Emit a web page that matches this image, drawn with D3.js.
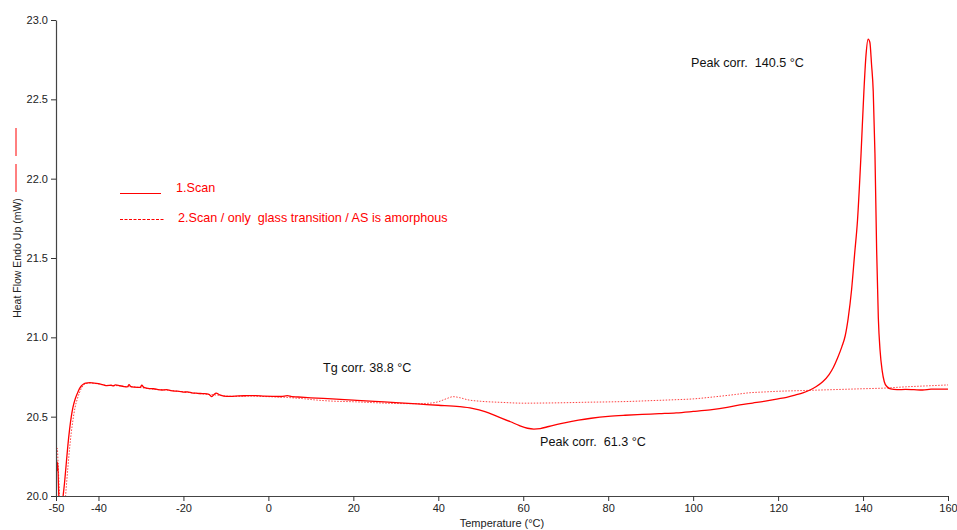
<!DOCTYPE html>
<html>
<head>
<meta charset="utf-8">
<script src="https://cdn.jsdelivr.net/npm/d3@7"></script>
<style>
  html, body { margin: 0; padding: 0; background: #fff; }
  svg { display: block; font-family: "Liberation Sans", Arial, sans-serif; }
</style>
</head>
<body>
<svg id="chart" width="957" height="530"></svg>
<script>
// DSC heat flow curves: temperature (°C) and heat flow (mW)
const scan1Temp = [-50.0,-49.8,-49.7,-49.6,-49.4,-49.2,-48.8,-48.4,-48.0,-47.6,-47.2,-46.8,-46.4,-46.0,-45.5,-45.0,-44.5,-44.0,-43.5,-43.0,
  -42,-41,-40,-39,-38,-37,-36.5,-36,-35,-34,-33.2,-32.8,-32.4,-31.5,-30.2,-29.8,-29.3,-28,-27,-26,-25,-24,-23,-22,-21,-20,-19,-18,-17,-16,-15,-14,
  -13.3,-12.8,-12.3,-11.5,-10.5,-9,-7,-5,-3,-1,1,3,4.5,5.5,7,10,15,20,25,30,35,40,45,48,51,54,57,59,61,62.5,64,66,68,70,73,76,80,84,88,92,96,
  100,104,108,111,114,117,120,122,124,126,127.5,129,130.5,132,133,134,135,135.8,136.5,137.3,138,138.7,139.5,140.2,140.7,141.2,141.6,142.0,
  142.4,142.8,143.2,143.6,144.0,144.5,145.0,145.6,146.5,148,150,152,154,156,158,160];
const scan1Flow = [20.18,20.22,20.16,20.21,20.05,19.90,19.85,19.98,20.08,20.20,20.32,20.42,20.50,20.56,20.61,20.645,20.675,20.695,20.706,20.712,
  20.714,20.712,20.708,20.702,20.696,20.698,20.694,20.700,20.695,20.690,20.688,20.702,20.690,20.686,20.684,20.698,20.684,20.677,20.676,20.670,
  20.668,20.670,20.664,20.661,20.660,20.655,20.656,20.650,20.648,20.646,20.645,20.640,
  20.626,20.640,20.648,20.638,20.630,20.628,20.631,20.632,20.633,20.630,20.628,20.627,20.632,20.626,20.624,20.619,20.612,20.604,20.596,20.589,
  20.580,20.572,20.563,20.552,20.532,20.500,20.468,20.445,20.427,20.422,20.425,20.438,20.451,20.463,20.478,20.490,20.502,20.509,20.514,20.519,
  20.524,20.533,20.543,20.558,20.574,20.586,20.598,20.612,20.622,20.636,20.652,20.668,20.690,20.720,20.765,20.810,20.870,20.94,21.01,21.12,
  21.30,21.52,21.74,22.14,22.55,22.78,22.88,22.86,22.72,22.55,22.16,21.55,21.12,20.92,20.79,20.72,20.69,20.675,20.670,20.672,20.670,20.668,
  20.673,20.674,20.673];

const scan2Temp = [-50.0,-49.8,-49.7,-49.5,-49.3,-49.1,-48.5,-48.0,-47.6,-47.2,-46.8,-46.4,-46.0,-45.5,-45.0,-44.5,-44.0,-43.5,-43.0,-42,
  -40,-38,-36,-34,-32,-30,-28,-26,-24,-22,-20,-18,-16,-14,-12,-10,-8,-6,-4,-2,0,2,4,6,8,10,15,20,25,30,35,38,40,42,43.5,45,47,50,55,60,65,70,
  75,80,85,90,95,100,105,110,113,117,120,125,130,135,140,145,150,155,160];
const scan2Flow = [20.22,20.29,20.30,20.20,20.08,19.95,19.85,19.92,20.05,20.18,20.30,20.40,20.48,20.56,20.61,20.65,20.68,20.70,20.708,20.712,
  20.706,20.697,20.696,20.690,20.688,20.683,20.676,20.671,20.668,20.662,20.656,20.650,20.645,20.640,20.636,20.630,20.628,20.629,20.630,20.628,
  20.626,20.624,20.622,20.618,20.614,20.608,20.598,20.594,20.588,20.583,20.582,20.585,20.594,20.614,20.626,20.620,20.606,20.597,20.590,20.585,
  20.586,20.588,20.591,20.593,20.596,20.601,20.606,20.612,20.625,20.640,20.650,20.656,20.660,20.664,20.668,20.672,20.676,20.680,20.688,20.694,
  20.700];

const xTicks = [-50, -40, -20, 0, 20, 40, 60, 80, 100, 120, 140, 160];
const yTicks = [20.0, 20.5, 21.0, 21.5, 22.0, 22.5, 23.0];

const legendLabels = ["1.Scan", "2.Scan / only  glass transition / AS is amorphous"];
const notes = [
  { text: "Peak corr.  140.5 °C", x: 691, y: 67 },
  { text: "Tg corr. 38.8 °C", x: 323, y: 372 },
  { text: "Peak corr.  61.3 °C", x: 540, y: 446 }
];

const svg = d3.select("#chart");
const plotLeft = 56, plotRight = 948, plotTop = 20, plotBottom = 496;

const x = d3.scaleLinear().domain([-50, 160]).range([plotLeft, plotRight]);
const y = d3.scaleLinear().domain([20, 23]).range([plotBottom, plotTop]);

svg.append("defs").append("clipPath").attr("id", "plot")
  .append("rect").attr("x", plotLeft).attr("y", plotTop)
  .attr("width", plotRight - plotLeft).attr("height", plotBottom - plotTop);

const red = "#ff0000";
const line = d3.line().x(d => x(d[0])).y(d => y(d[1])).curve(d3.curveMonotoneX);

const g = svg.append("g").attr("clip-path", "url(#plot)");
g.append("path")
  .datum(d3.zip(scan2Temp, scan2Flow))
  .attr("d", line).attr("fill", "none")
  .attr("stroke", red).attr("stroke-width", 1).attr("stroke-opacity", 0.75)
  .attr("stroke-dasharray", "1.5,1.5");
g.append("path")
  .datum(d3.zip(scan1Temp, scan1Flow))
  .attr("d", line).attr("fill", "none")
  .attr("stroke", red).attr("stroke-width", 1.3);

// Axes (plain hyphen for negative tick labels)
const hyphenInt = d => String(d);
const xAxis = svg.append("g").attr("transform", `translate(0,${plotBottom})`)
  .call(d3.axisBottom(x).tickValues(xTicks).tickSize(5).tickSizeOuter(0).tickFormat(hyphenInt));
const yAxis = svg.append("g").attr("transform", `translate(${plotLeft},0)`)
  .call(d3.axisLeft(y).tickValues(yTicks).tickSize(5).tickSizeOuter(0).tickFormat(d => d.toFixed(1)));
[xAxis, yAxis].forEach(a => {
  a.select(".domain").attr("stroke", "#444").attr("stroke-width", 1.2);
  a.selectAll(".tick line").attr("stroke", "#333");
  a.selectAll(".tick text").attr("fill", "#222").style("font-size", "11px")
    .style("font-family", "'Liberation Sans', Arial, sans-serif");
});
xAxis.selectAll(".tick text").attr("dy", "0.95em").attr("y", 6);
yAxis.selectAll(".tick text").attr("x", -8);

// Axis titles
svg.append("text").attr("x", 502).attr("y", 527).attr("text-anchor", "middle")
  .attr("fill", "#222").style("font-size", "11px").text("Temperature (°C)");
svg.append("text").attr("transform", "translate(21,258) rotate(-90)").attr("text-anchor", "middle")
  .attr("fill", "#222").style("font-size", "10.5px").text("Heat Flow Endo Up (mW)");
svg.append("line").attr("x1", 16).attr("x2", 16).attr("y1", 128).attr("y2", 156).attr("stroke", red).attr("stroke-width", 1);
svg.append("line").attr("x1", 16).attr("x2", 16).attr("y1", 164).attr("y2", 192).attr("stroke", red).attr("stroke-width", 1);

// Legend
const legend = svg.append("g");
legend.append("line").attr("x1", 120).attr("x2", 161).attr("y1", 193.5).attr("y2", 193.5)
  .attr("stroke", red).attr("stroke-width", 1);
legend.append("line").attr("x1", 120).attr("x2", 164).attr("y1", 219.5).attr("y2", 219.5)
  .attr("stroke", red).attr("stroke-width", 1).attr("stroke-dasharray", "3,1.5");
legend.append("text").attr("x", 176).attr("y", 192).attr("fill", red)
  .style("font-size", "12.6px").text(legendLabels[0]);
legend.append("text").attr("x", 178).attr("y", 222).attr("fill", red)
  .style("font-size", "12.6px").style("white-space", "pre").text(legendLabels[1]);

// Annotations
svg.selectAll(".note").data(notes).enter().append("text")
  .attr("class", "note").attr("x", d => d.x).attr("y", d => d.y)
  .attr("fill", "#111").style("font-size", "12.6px").style("white-space", "pre")
  .text(d => d.text);
</script>
</body>
</html>
